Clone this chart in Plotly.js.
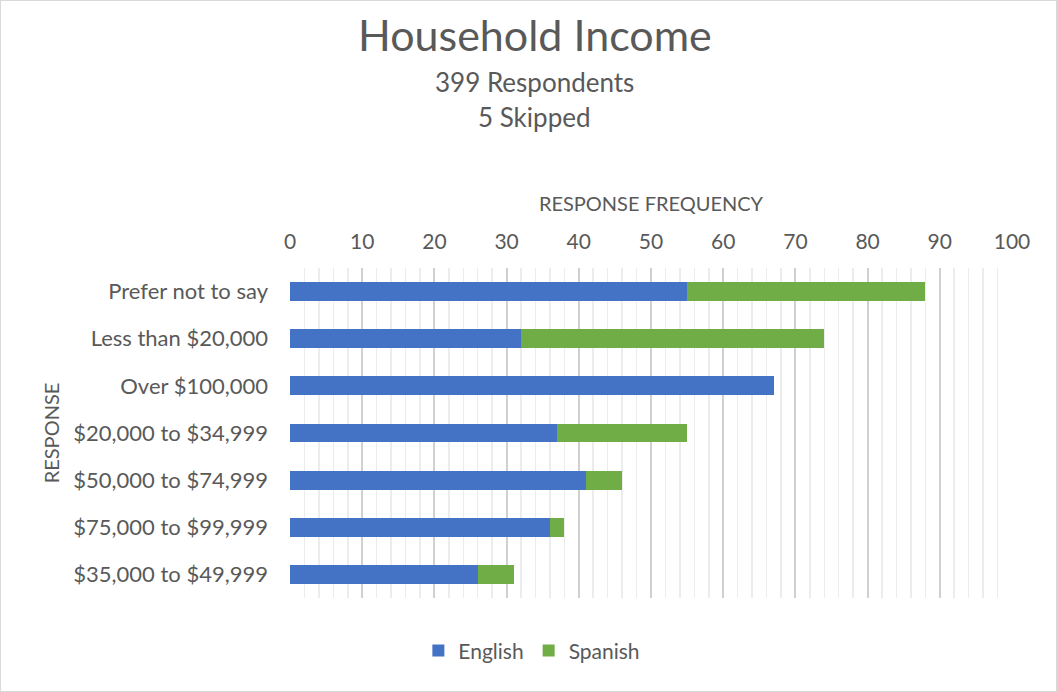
<!DOCTYPE html>
<html>
<head>
<meta charset="utf-8">
<script src="https://cdn.plot.ly/plotly-3.0.1.min.js"></script>
<style>
html,body{margin:0;padding:0;background:#fff;}
#chart{width:1055px;height:690px;border:1px solid #d9d9d9;}
</style>
</head>
<body>
<div id="chart"></div>
<script>
const categories = ["Prefer not to say","Less than $20,000","Over $100,000","$20,000 to $34,999","$50,000 to $74,999","$75,000 to $99,999","$35,000 to $49,999"];
const english = [55, 32, 67, 37, 41, 36, 26];
const spanish = [33, 42, 0, 18, 5, 2, 5];

const font = "Lato, 'Open Sans', sans-serif";
const textColor = "#595959";

const traces = [
  {type:'bar', orientation:'h', name:'English', y:categories, x:english,
   marker:{color:'#4472C4'}, hoverinfo:'x+y+name'},
  {type:'bar', orientation:'h', name:'Spanish', y:categories, x:spanish,
   marker:{color:'#70AD47'}, hoverinfo:'x+y+name'}
];

const layout = {
  width:1055, height:690,
  margin:{l:289, r:44, t:267, b:93},
  paper_bgcolor:'#fff', plot_bgcolor:'#fff',
  font:{family:font, color:textColor, size:21},
  barmode:'stack', bargap:0.6,
  showlegend:true,
  legend:{orientation:'h', x:0.335, xanchor:'center', y:-0.16, yanchor:'middle',
          font:{size:21, color:textColor}, traceorder:'normal', itemwidth:20},
  xaxis:{side:'top', range:[0,100], tickmode:'linear', tick0:0, dtick:10, ticks:'', ticklabelstandoff:14,
         showgrid:true, gridcolor:'#d0d0d0', gridwidth:2, zeroline:false, showline:false,
         minor:{tickmode:'linear', tick0:0, dtick:2, showgrid:true, gridcolor:'#ececec', gridwidth:1.5},
         title:{text:'RESPONSE FREQUENCY', font:{size:20, color:textColor}, standoff:10},
         tickfont:{size:21, color:textColor}, fixedrange:true},
  yaxis:{categoryorder:'array', categoryarray:categories, autorange:'reversed',
         ticks:'', ticklabelstandoff:21, showgrid:false, zeroline:false, showline:false,
         title:{text:'RESPONSE', font:{size:20, color:textColor}, standoff:8},
         tickfont:{size:22, color:textColor}, fixedrange:true},
  annotations:[
    {text:'Household Income', xref:'paper', yref:'paper', x:0.339, y:1.709, xanchor:'center', yanchor:'middle',
     showarrow:false, font:{size:43, color:textColor, family:font}},
    {text:'399 Respondents', xref:'paper', yref:'paper', x:0.339, y:1.565, xanchor:'center', yanchor:'middle',
     showarrow:false, font:{size:26, color:textColor, family:font}},
    {text:'5 Skipped', xref:'paper', yref:'paper', x:0.339, y:1.458, xanchor:'center', yanchor:'middle',
     showarrow:false, font:{size:26, color:textColor, family:font}}
  ]
};

Plotly.newPlot('chart', traces, layout, {displayModeBar:false, staticPlot:true});
</script>
</body>
</html>
